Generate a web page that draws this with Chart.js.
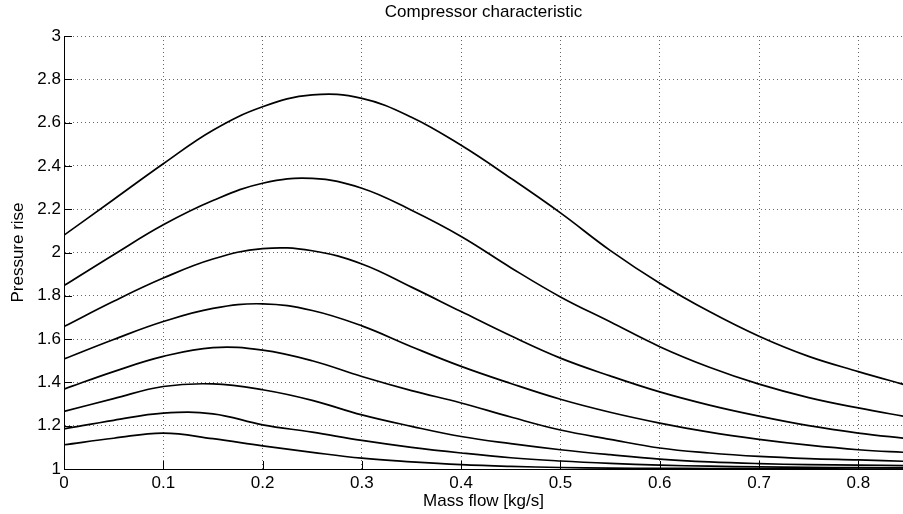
<!DOCTYPE html>
<html>
<head>
<meta charset="utf-8">
<script src="https://cdn.jsdelivr.net/npm/chart.js@4.4.1/dist/chart.umd.min.js"></script>
<style>
  html, body { margin: 0; padding: 0; background: #fff; overflow: hidden; }
  #wrap { width: 903px; height: 514px; }
</style>
</head>
<body>
<div id="wrap"><canvas id="chart"></canvas></div>
<script>
// mass flow [kg/s]
const flow = [0, 0.05, 0.1, 0.15, 0.2, 0.25, 0.3, 0.35, 0.4, 0.45, 0.5, 0.55, 0.6, 0.65, 0.7, 0.75, 0.8, 0.85]

// pressure rise, one array per curve (top to bottom)
const curve1 = [2.08, 2.245, 2.41, 2.565, 2.673, 2.728, 2.712, 2.625, 2.495, 2.343, 2.183, 2.01, 1.858, 1.727, 1.613, 1.52, 1.45, 1.385]
const curve2 = [1.847, 1.99, 2.128, 2.24, 2.32, 2.342, 2.297, 2.195, 2.074, 1.93, 1.795, 1.68, 1.565, 1.47, 1.392, 1.33, 1.282, 1.24]
const curve3 = [1.658, 1.775, 1.882, 1.97, 2.018, 2.008, 1.947, 1.84, 1.727, 1.615, 1.512, 1.43, 1.356, 1.295, 1.244, 1.2, 1.166, 1.14]
const curve4 = [1.508, 1.598, 1.681, 1.742, 1.763, 1.732, 1.661, 1.565, 1.474, 1.395, 1.322, 1.262, 1.212, 1.17, 1.137, 1.11, 1.089, 1.076]
const curve5 = [1.369, 1.45, 1.52, 1.561, 1.549, 1.5, 1.427, 1.362, 1.305, 1.24, 1.18, 1.137, 1.097, 1.074, 1.058, 1.048, 1.042, 1.035]
const curve6 = [1.266, 1.325, 1.381, 1.393, 1.366, 1.317, 1.25, 1.197, 1.15, 1.117, 1.089, 1.066, 1.046, 1.033, 1.025, 1.02, 1.018, 1.015]
const curve7 = [1.185, 1.225, 1.258, 1.255, 1.204, 1.17, 1.132, 1.1, 1.074, 1.052, 1.037, 1.026, 1.018, 1.013, 1.01, 1.008, 1.006, 1.005]
const curve8 = [1.112, 1.142, 1.166, 1.14, 1.107, 1.077, 1.05, 1.033, 1.02, 1.012, 1.007, 1.004, 1.003, 1.002, 1.001, 1.001, 1.0, 1.0]

const curves = [curve1, curve2, curve3, curve4, curve5, curve6, curve7, curve8]

const xTicks = [0, 0.1, 0.2, 0.3, 0.4, 0.5, 0.6, 0.7, 0.8]
const yTicks = [1, 1.2, 1.4, 1.6, 1.8, 2, 2.2, 2.4, 2.6, 2.8, 3]

Chart.defaults.font.family = "'Liberation Sans', Arial, Helvetica, sans-serif"
Chart.defaults.color = '#000'

// matlab style ticks pointing into the plot
const inwardTicks = {
    id: 'inwardTicks',
    beforeDatasetsDraw(chart) {
        const {ctx, chartArea, scales} = chart
        ctx.save()
        ctx.strokeStyle = '#000'
        ctx.lineWidth = 1
        ctx.beginPath()
        scales.x.ticks.forEach(t => {
            let px = Math.round(scales.x.getPixelForValue(t.value)) + 0.5
            ctx.moveTo(px, chartArea.bottom)
            ctx.lineTo(px, chartArea.bottom - 8)
        })
        scales.y.ticks.forEach(t => {
            let py = Math.round(scales.y.getPixelForValue(t.value)) + 0.5
            ctx.moveTo(chartArea.left, py)
            ctx.lineTo(chartArea.left + 8, py)
        })
        ctx.stroke()
        ctx.restore()
    }
}

const grid = {
    color: 'rgba(0,0,0,0.6)',
    lineWidth: 1,
    drawTicks: false
}

new Chart(document.getElementById('chart'), {
    type: 'line',
    data: {
        datasets: curves.map((c, i) => ({
            label: 'curve ' + (i + 1),
            data: flow.map((x, j) => ({x: x, y: c[j]})),
            borderColor: '#000',
            borderWidth: 1.7,
            pointRadius: 0,
            tension: 0.4,
            fill: false
        }))
    },
    options: {
        responsive: true,
        maintainAspectRatio: false,
        animation: false,
        layout: {padding: 0},
        plugins: {
            legend: {display: false},
            tooltip: {enabled: false},
            title: {
                display: true,
                text: 'Compressor characteristic',
                fullSize: false,
                font: {size: 17, weight: 'normal'},
                padding: {top: 2, bottom: 13.6}
            }
        },
        scales: {
            x: {
                type: 'linear',
                min: 0,
                max: 0.845,
                afterBuildTicks: s => { s.ticks = xTicks.map(v => ({value: v})) },
                afterFit: s => { s.height = 45 },
                ticks: {
                    font: {size: 17},
                    padding: 4,
                    maxRotation: 0,
                    callback: v => String(Math.round(v * 10) / 10)
                },
                grid: grid,
                border: {display: true, color: '#000', width: 1, dash: [1, 3]},
                title: {
                    display: true,
                    text: 'Mass flow [kg/s]',
                    font: {size: 17},
                    padding: {top: 0, bottom: 2}
                }
            },
            y: {
                type: 'linear',
                min: 1,
                max: 3,
                afterBuildTicks: s => { s.ticks = yTicks.map(v => ({value: v})) },
                afterFit: s => { s.width = 64 },
                ticks: {
                    font: {size: 17},
                    padding: 3,
                    callback: v => String(Math.round(v * 10) / 10)
                },
                grid: grid,
                border: {display: true, color: '#000', width: 1, dash: [1, 3]},
                title: {
                    display: true,
                    text: 'Pressure rise',
                    font: {size: 17},
                    padding: {top: 8, bottom: 0}
                }
            }
        }
    },
    plugins: [inwardTicks]
})
</script>
</body>
</html>
